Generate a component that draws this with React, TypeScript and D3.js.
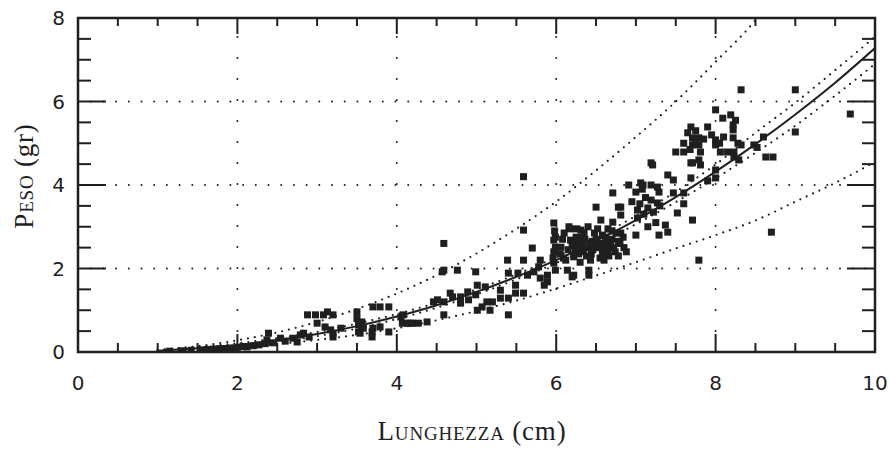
import * as d3 from "d3";

const campione: [number, number][] = [
  [1.15, 0.02], [1.3, 0.03], [1.42, 0.04], [1.55, 0.05], [1.62, 0.06], [1.7, 0.07], [1.78, 0.08], [1.85, 0.08],
  [1.93, 0.09], [2.0, 0.11], [2.07, 0.13], [2.12, 0.12], [2.2, 0.15], [2.27, 0.17], [2.35, 0.2], [2.37, 0.29],
  [2.39, 0.45], [2.45, 0.22], [2.54, 0.33], [2.6, 0.26], [2.7, 0.33], [2.75, 0.24], [2.79, 0.41], [2.83, 0.45],
  [2.88, 0.89], [2.9, 0.36],
  [2.98, 0.89], [3.08, 0.89], [3.13, 0.96], [3.2, 0.89], [3.0, 0.69], [3.1, 0.6], [3.17, 0.53], [3.2, 0.45],
  [3.2, 0.36], [3.3, 0.57], [3.5, 0.96], [3.5, 0.8], [3.52, 0.65], [3.52, 0.48], [3.54, 0.45], [3.56, 0.72],
  [3.58, 0.57], [3.69, 0.48], [3.69, 0.36], [3.7, 0.57], [3.7, 1.08], [3.79, 1.08], [3.79, 0.6], [3.9, 1.08],
  [3.9, 0.48], [4.05, 0.84], [4.07, 0.69], [4.08, 0.89], [4.13, 0.69], [4.17, 0.69], [4.2, 0.69], [4.27, 0.69],
  [4.38, 0.72],
  [4.46, 1.2], [4.51, 1.25], [4.57, 1.92], [4.59, 2.6], [4.59, 1.2], [4.59, 0.89], [4.59, 1.96], [4.67, 1.41],
  [4.7, 1.32], [4.76, 1.96], [4.8, 1.32], [4.8, 1.17], [4.89, 1.44], [4.9, 1.25], [4.99, 1.37], [4.99, 1.92],
  [5.01, 1.6], [5.01, 1.0], [5.07, 1.08], [5.11, 1.56], [5.13, 1.2], [5.17, 1.0], [5.2, 1.2], [5.3, 1.29],
  [5.3, 1.48], [5.39, 2.2], [5.4, 1.89], [5.4, 1.29], [5.4, 0.89], [5.49, 1.6], [5.49, 1.41],
  [5.52, 1.89], [5.59, 1.41], [5.59, 2.2], [5.59, 2.92], [5.59, 4.2], [5.64, 1.84], [5.7, 2.49], [5.72, 1.92],
  [5.78, 2.04], [5.8, 1.77], [5.8, 2.2], [5.85, 1.6], [5.89, 1.84], [5.89, 1.68], [5.97, 3.09], [5.97, 2.68],
  [5.97, 2.4], [5.97, 2.13], [5.99, 1.96], [5.99, 2.75], [5.99, 2.51], [5.98, 2.9], [5.96, 2.25],
  [6.06, 2.51], [6.09, 2.25], [6.14, 1.96], [6.18, 2.68], [6.2, 1.8], [6.22, 2.28], [6.22, 1.84], [6.24, 2.4],
  [6.28, 2.6], [6.31, 2.92], [6.31, 2.75], [6.34, 2.45], [6.38, 2.3], [6.41, 1.96], [6.41, 1.84], [6.43, 2.2],
  [6.45, 2.65], [6.48, 2.85], [6.5, 3.47], [6.52, 2.5], [6.56, 3.16], [6.58, 2.35], [6.6, 2.2], [6.62, 2.75],
  [6.65, 2.95], [6.68, 2.55], [6.71, 3.11], [6.71, 3.81], [6.74, 2.4], [6.78, 3.47], [6.78, 2.65], [6.81, 3.47],
  [6.81, 3.28], [6.81, 2.85], [6.85, 2.5], [6.1, 2.85], [6.16, 3.0], [6.26, 2.95], [6.36, 2.7], [6.4, 3.0],
  [6.55, 2.6], [6.66, 2.3], [6.12, 2.2], [6.2, 2.55], [6.46, 2.45], [6.3, 2.15], [6.7, 2.9],
  [6.05, 2.35], [6.08, 2.7], [6.15, 2.45], [6.25, 2.75], [6.28, 2.35], [6.33, 2.55], [6.35, 2.85], [6.42, 2.6],
  [6.44, 2.35], [6.5, 2.7], [6.52, 2.95], [6.55, 2.25], [6.6, 2.5], [6.63, 2.6], [6.65, 2.45], [6.7, 2.7],
  [6.72, 2.5], [6.75, 2.85], [6.78, 2.3], [6.8, 2.6], [6.84, 2.75], [6.88, 2.4], [6.18, 2.95], [6.22, 2.6],
  [6.38, 2.5], [6.48, 2.55], [6.58, 2.8], [6.68, 2.65], [6.32, 2.4], [6.26, 2.5],
  [6.91, 4.0], [7.0, 3.83], [7.0, 2.8], [7.02, 3.4], [7.02, 3.21], [7.06, 4.05], [7.09, 4.0], [7.1, 3.3],
  [7.15, 3.0], [7.19, 4.0], [7.19, 3.64], [7.19, 4.53], [7.21, 4.48], [7.25, 3.1], [7.27, 3.57], [7.27, 3.95],
  [7.29, 3.83], [7.29, 2.8], [7.37, 3.04], [7.4, 2.87], [7.4, 4.24], [7.47, 3.81], [7.47, 4.12], [7.5, 4.79],
  [7.52, 3.33], [7.05, 3.55], [7.12, 3.7], [7.15, 3.45], [7.22, 3.35], [7.3, 3.5], [6.95, 3.6], [7.08, 3.9],
  [7.6, 5.0], [7.6, 4.79], [7.6, 3.81], [7.6, 3.55], [7.69, 5.39], [7.69, 4.53], [7.69, 4.17], [7.71, 5.13],
  [7.71, 4.96], [7.71, 4.53], [7.71, 3.16], [7.79, 5.13], [7.79, 4.6], [7.79, 4.96], [7.79, 2.2], [7.81, 4.79],
  [7.81, 4.48], [7.9, 5.39], [7.9, 4.1], [8.0, 5.8], [8.0, 5.08], [8.0, 4.96], [8.0, 4.36], [8.0, 4.17],
  [7.65, 5.25], [7.75, 5.3], [7.75, 5.0], [7.85, 5.1], [7.68, 4.85], [7.95, 5.2],
  [8.06, 4.79], [8.09, 5.6], [8.15, 4.79], [8.19, 5.68], [8.22, 5.44], [8.22, 5.32], [8.22, 5.13], [8.23, 4.79],
  [8.23, 4.67], [8.28, 5.0], [8.29, 4.6], [8.32, 6.28], [8.32, 4.96], [8.48, 4.96], [8.52, 4.9], [8.6, 5.15],
  [8.63, 4.67], [8.7, 2.87], [8.72, 4.67], [9.0, 6.28], [9.0, 5.27], [9.69, 5.7],
  [8.05, 5.0], [8.1, 5.15], [8.25, 5.55],
];

// curva stimata e bande (lette a passo 0.5 cm)
const curvaX = [1, 1.5, 2, 2.5, 3, 3.5, 4, 4.5, 5, 5.5, 6, 6.5, 7, 7.5, 8, 8.5, 9, 9.5, 10];
const stima = [0.03, 0.09, 0.17, 0.28, 0.43, 0.62, 0.85, 1.12, 1.44, 1.8, 2.2, 2.66, 3.16, 3.71, 4.32, 4.98, 5.69, 6.45, 7.28];
const mediaSup = [0.05, 0.12, 0.21, 0.33, 0.48, 0.68, 0.91, 1.18, 1.5, 1.86, 2.27, 2.74, 3.26, 3.84, 4.49, 5.25, 5.97, 6.75, 7.55];
const mediaInf = [0.02, 0.07, 0.14, 0.24, 0.38, 0.56, 0.79, 1.06, 1.38, 1.74, 2.13, 2.58, 3.06, 3.59, 4.16, 4.77, 5.42, 6.14, 6.9];
const prevSup = [0.05, 0.14, 0.28, 0.47, 0.72, 1.03, 1.4, 1.84, 2.36, 2.95, 3.6, 4.35, 5.15, 6.0, 6.95, 7.95, 9.3, 10.6, 11.9];
const prevInf = [0.01, 0.05, 0.11, 0.19, 0.29, 0.41, 0.57, 0.76, 0.98, 1.23, 1.52, 1.83, 2.15, 2.48, 2.8, 3.15, 3.6, 4.05, 4.55];

const xTickLabels = [0, 2, 4, 6, 8, 10];
const yTickLabels = [0, 2, 4, 6, 8];
const xGrid = [2, 4, 6, 8];
const yGrid = [2, 4, 6];

const ink = "#1f1f1f";

export default function App() {
  const width = 889;
  const height = 451;
  const left = 78, right = 875, top = 18, bottom = 352;

  const x = d3.scaleLinear().domain([0, 10]).range([left, right]);
  const y = d3.scaleLinear().domain([0, 8]).range([bottom, top]);

  const line = (ys: number[]) =>
    d3.line<number>()
      .x((_, i) => x(curvaX[i]))
      .y((d) => y(d))
      .curve(d3.curveMonotoneX)(ys) || "";

  const minor = d3.range(0, 10.01, 0.5);
  const minorY = d3.range(0, 8.01, 0.5);
  const isMajor = (v: number) => Math.abs(v % 2) < 1e-6;

  const dotted = { fill: "none", stroke: ink, strokeWidth: 2.2, strokeLinecap: "round" as const, strokeDasharray: "0 7" };
  const sc = { fontVariant: "small-caps" };

  return (
    <svg width={width} height={height} style={{ position: "absolute", left: 0, top: 0, background: "#fff" }}>
      <defs>
        <clipPath id="plot">
          <rect x={left} y={top} width={right - left} height={bottom - top} />
        </clipPath>
      </defs>

      {/* griglia punteggiata */}
      {yGrid.map((v) => (
        <line key={"gy" + v} x1={left} x2={right} y1={y(v)} y2={y(v)}
          stroke={ink} strokeWidth={2} strokeLinecap="round" strokeDasharray="0 12.7" />
      ))}
      {xGrid.map((v) => (
        <line key={"gx" + v} x1={x(v)} x2={x(v)} y1={bottom} y2={top}
          stroke={ink} strokeWidth={2} strokeLinecap="round" strokeDasharray="0 21" />
      ))}

      <g clipPath="url(#plot)">
        <path d={line(prevSup)} {...dotted} />
        <path d={line(prevInf)} {...dotted} />
        <path d={line(mediaSup)} {...dotted} />
        <path d={line(mediaInf)} {...dotted} />
        <path d={line(stima)} fill="none" stroke={ink} strokeWidth={2} />
        {campione.map(([l, p], i) => (
          <rect key={i} x={x(l) - 3.5} y={y(p) - 3.5} width={7} height={7} fill={ink} />
        ))}
      </g>

      {/* tacche su tutti i lati */}
      {minor.map((v) => {
        const m = isMajor(v);
        return (
          <g key={"tx" + v}>
            <line x1={x(v)} x2={x(v)} y1={bottom} y2={bottom - (m ? 18 : 9)} stroke={ink} strokeWidth={2} />
            <line x1={x(v)} x2={x(v)} y1={top} y2={top + (m ? 16 : 8)} stroke={ink} strokeWidth={2} />
          </g>
        );
      })}
      {minorY.map((v) => {
        const m = isMajor(v);
        return (
          <g key={"ty" + v}>
            <line x1={left} x2={left + (m ? 28 : 13)} y1={y(v)} y2={y(v)} stroke={ink} strokeWidth={2} />
            <line x1={right} x2={right - (m ? 28 : 13)} y1={y(v)} y2={y(v)} stroke={ink} strokeWidth={2} />
          </g>
        );
      })}

      <rect x={left} y={top} width={right - left} height={bottom - top} fill="none" stroke={ink} strokeWidth={2.5} />

      {xTickLabels.map((v) => (
        <text key={"lx" + v} x={x(v)} y={390} textAnchor="middle" fontFamily="DejaVu Sans" fontSize={20} fill={ink}>
          {v}
        </text>
      ))}
      {yTickLabels.map((v) => (
        <text key={"ly" + v} x={65} y={y(v)} dy="0.36em" textAnchor="end" fontFamily="DejaVu Sans" fontSize={20} fill={ink}>
          {v}
        </text>
      ))}

      <text x={472} y={440} textAnchor="middle" fontFamily="Liberation Serif" fontSize={27} fill={ink} letterSpacing={0.8}>
        <tspan style={sc}>Lunghezza</tspan> (cm)
      </text>
      <text transform={`translate(33,176) rotate(-90)`} textAnchor="middle" fontFamily="Liberation Serif"
        fontSize={27} fill={ink} letterSpacing={0.8}>
        <tspan style={sc}>Peso</tspan> (gr)
      </text>
    </svg>
  );
}
